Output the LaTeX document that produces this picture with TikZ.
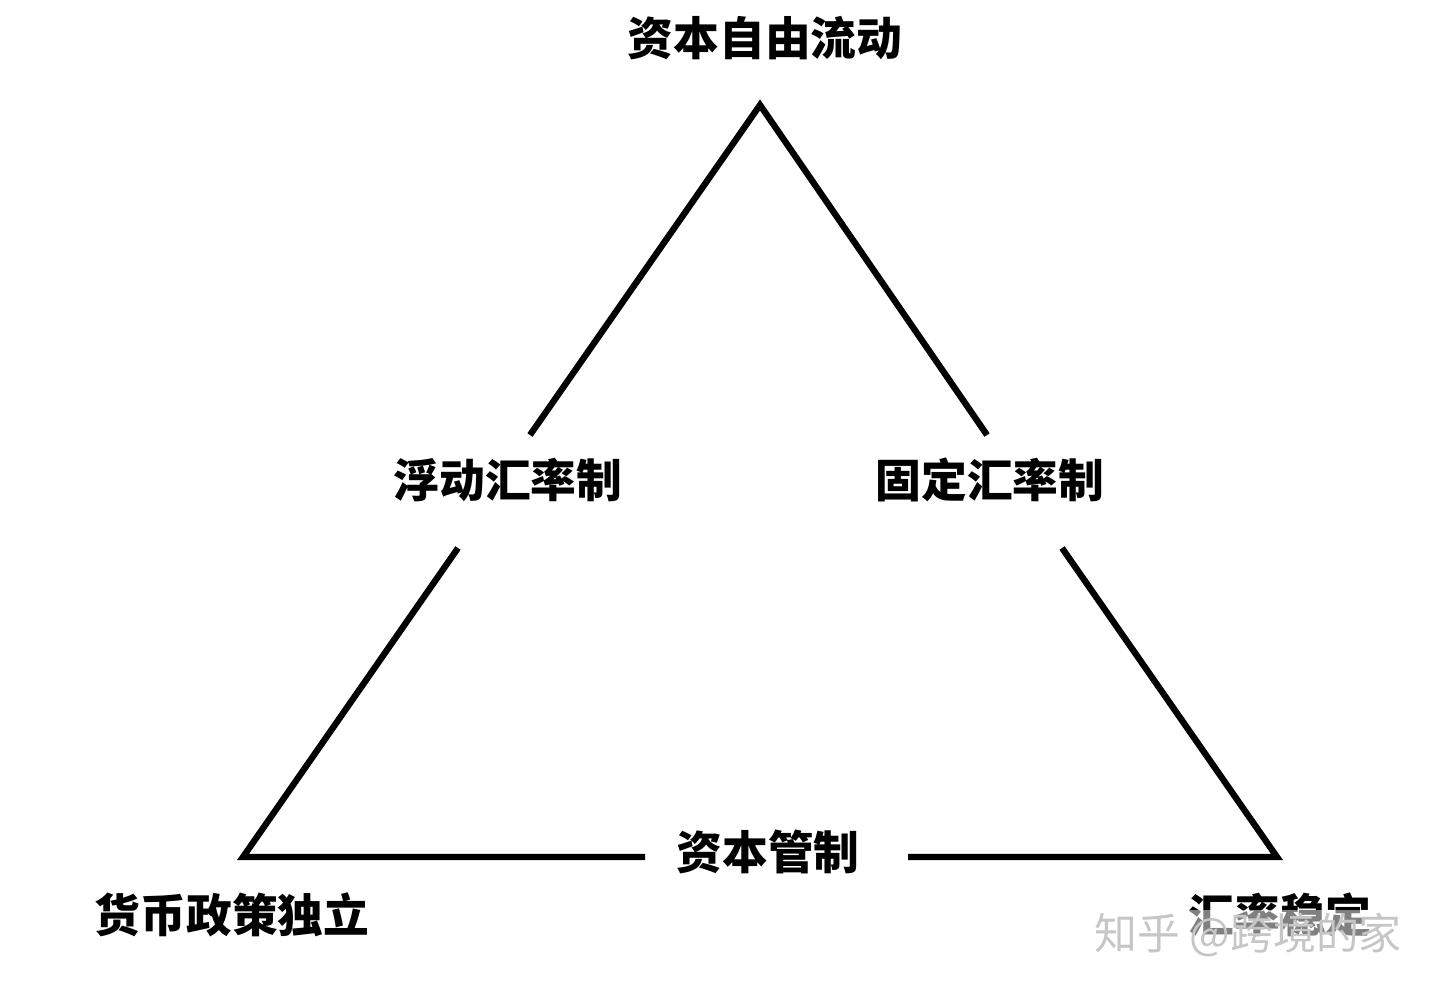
\documentclass[tikz,border=0pt]{standalone}
\usepackage{fontspec}
\newfontfamily\cjk{Noto Sans CJK SC}
\begin{document}
\begin{tikzpicture}[x=0.01cm,y=-0.01cm,
  lbl/.style={font=\cjk\bfseries\fontsize{13pt}{15pt}\selectfont,inner sep=0pt},
  edge/.style={line width=1.8pt,line join=miter}]
\useasboundingbox (0,0) rectangle (1440,994);
\fill[white] (0,0) rectangle (1440,994);
\coordinate (T) at (760,105);
\coordinate (L) at (243,857);
\coordinate (R) at (1277,857);
\coordinate (l1) at (530,435);
\coordinate (l2) at (458,548);
\coordinate (r1) at (987,435);
\coordinate (r2) at (1062,548);
\coordinate (b1) at (645,857);
\coordinate (b2) at (908,857);
\draw[edge] (l1) -- (T) -- (r1);
\draw[edge] (l2) -- (L) -- (b1);
\draw[edge] (r2) -- (R) -- (b2);
\node[lbl] (top) at (765,38) {资本自由流动};
\node[lbl] (fl) at (508,480) {浮动汇率制};
\node[lbl] (fx) at (990,480) {固定汇率制};
\node[lbl] (cc) at (768,852) {资本管制};
\node[lbl] (mp) at (232,915) {货币政策独立};
\node[lbl] (es) at (1280,915) {汇率稳定};
\node[font=\cjk\fontsize{12.2pt}{14pt}\selectfont,fill=white,fill opacity=0.5,inner sep=1pt] (wm0) at (1248,935) {\phantom{知乎 @跨境的家}};
\node[font=\cjk\fontsize{12.2pt}{14pt}\selectfont,text=gray!45,inner sep=0pt] (wm) at (1248,935) {知乎 @跨境的家};
\end{tikzpicture}
\end{document}
